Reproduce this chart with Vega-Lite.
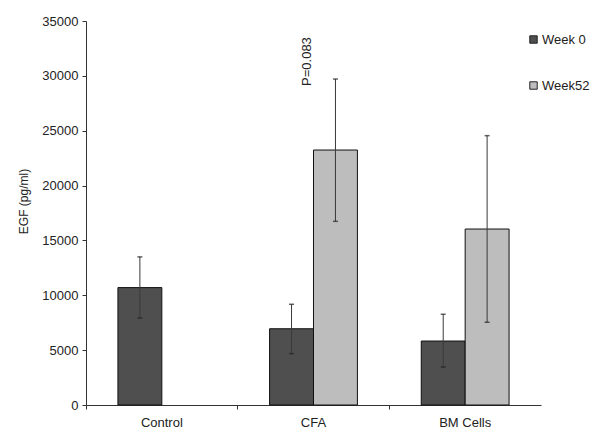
{
  "$schema": "https://vega.github.io/schema/vega-lite/v6.json",
  "width": 455,
  "height": 384,
  "autosize": "none",
  "padding": {"left": 86, "top": 21, "right": 59, "bottom": 31},
  "background": "white",
  "config": {
    "view": {"stroke": null},
    "font": "Liberation Sans",
    "axis": {"grid": false, "domainColor": "#333", "tickColor": "#333", "labelColor": "#222", "titleColor": "#222", "labelFont": "Liberation Sans", "titleFont": "Liberation Sans"}
  },
  "data": {
    "values": [
      {"group": "Control", "week": "Week 0", "value": 10700, "lo": 7930, "hi": 13500},
      {"group": "CFA", "week": "Week 0", "value": 6950, "lo": 4680, "hi": 9180},
      {"group": "CFA", "week": "Week52", "value": 23240, "lo": 16740, "hi": 29710},
      {"group": "BM Cells", "week": "Week 0", "value": 5830, "lo": 3460, "hi": 8270},
      {"group": "BM Cells", "week": "Week52", "value": 16040, "lo": 7540, "hi": 24550}
    ]
  },
  "encoding": {
    "x": {
      "field": "group", "type": "nominal", "sort": ["Control", "CFA", "BM Cells"],
      "scale": {"paddingInner": 0, "paddingOuter": 0},
      "axis": {"title": null, "labelAngle": 0, "bandPosition": 0, "tickSize": 4, "labelPadding": 7, "labelFontSize": 13, "labelFontWeight": "normal", "labelBound": false}
    },
    "xOffset": {
      "field": "week", "type": "nominal",
      "scale": {"domain": ["Week 0", "Week52"], "paddingInner": 0, "paddingOuter": 0.727}
    }
  },
  "layer": [
    {
      "mark": {"type": "bar", "stroke": "#111", "strokeWidth": 1},
      "encoding": {
        "y": {
          "field": "value", "type": "quantitative",
          "scale": {"domain": [0, 35000], "nice": false},
          "axis": {"title": "EGF (pg/ml)", "values": [0, 5000, 10000, 15000, 20000, 25000, 30000, 35000], "format": "d", "tickSize": 4, "labelPadding": 4, "labelFontSize": 13, "titleFontSize": 12, "titleFontWeight": "normal", "titleX": -63, "titleY": 180, "titleBaseline": "middle", "titleAlign": "center", "titleAngle": 270}
        },
        "color": {
          "field": "week", "type": "nominal",
          "scale": {"domain": ["Week 0", "Week52"], "range": ["#4f4f4f", "#bdbdbd"]},
          "legend": {"title": null, "orient": "none", "legendX": 441, "legendY": 12, "symbolType": "square", "symbolSize": 55, "symbolStrokeColor": "#222", "symbolStrokeWidth": 1, "labelFontSize": 13, "labelColor": "#222", "rowPadding": 32, "labelOffset": 2}
        }
      }
    },
    {
      "mark": {"type": "rule", "color": "#3a3a3a", "strokeWidth": 1},
      "encoding": {"y": {"field": "lo", "type": "quantitative"}, "y2": {"field": "hi"}}
    },
    {
      "mark": {"type": "tick", "color": "#222", "thickness": 1.5, "size": 5},
      "encoding": {"y": {"field": "hi", "type": "quantitative"}}
    },
    {
      "mark": {"type": "tick", "color": "#222", "thickness": 1.5, "size": 5},
      "encoding": {"y": {"field": "lo", "type": "quantitative"}}
    },
    {
      "data": {"values": [{"group": "CFA", "week": "Week52", "pos": 29080, "label": "P=0.083"}]},
      "mark": {"type": "text", "angle": 270, "align": "left", "baseline": "middle", "dy": -28, "fontSize": 13, "color": "#222"},
      "encoding": {"y": {"field": "pos", "type": "quantitative"}, "text": {"field": "label"}}
    }
  ]
}
